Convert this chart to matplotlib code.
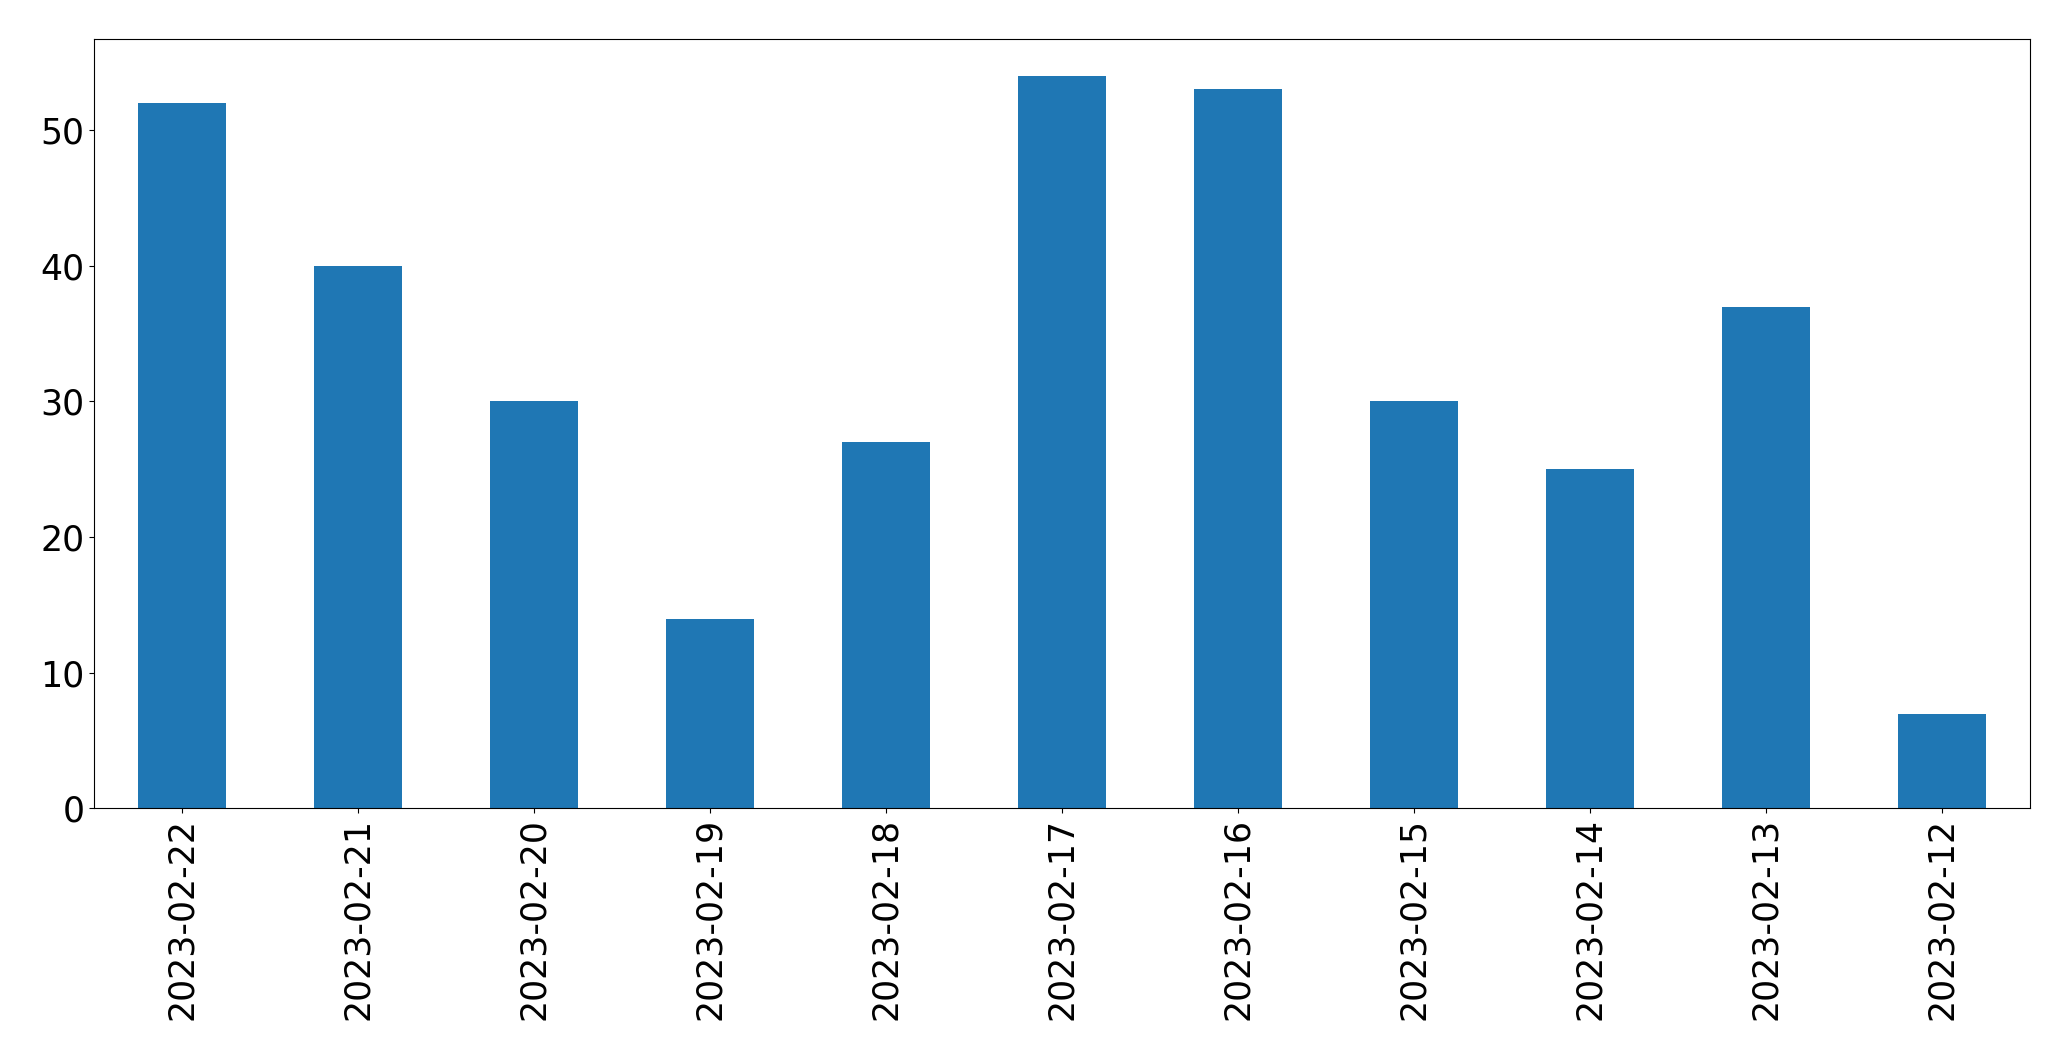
import matplotlib
matplotlib.use("Agg")
import matplotlib.pyplot as plt

dates = ["2023-02-22", "2023-02-21", "2023-02-20", "2023-02-19", "2023-02-18",
         "2023-02-17", "2023-02-16", "2023-02-15", "2023-02-14", "2023-02-13",
         "2023-02-12"]
counts = [52, 40, 30, 14, 27, 54, 53, 30, 25, 37, 7]

fig, ax = plt.subplots(figsize=(20.71, 10.61), dpi=100)
pos = list(range(len(dates)))
ax.bar(pos, counts, width=0.5, color='#1f77b4')
ax.set_xlim(-0.5, len(dates) - 0.5)
ax.set_xticks(pos)
ax.set_xticklabels(dates, rotation=90)
ax.tick_params(labelsize=25)
plt.subplots_adjust(left=0.0454, right=0.980, top=0.963, bottom=0.238)
plt.savefig("out.png")
